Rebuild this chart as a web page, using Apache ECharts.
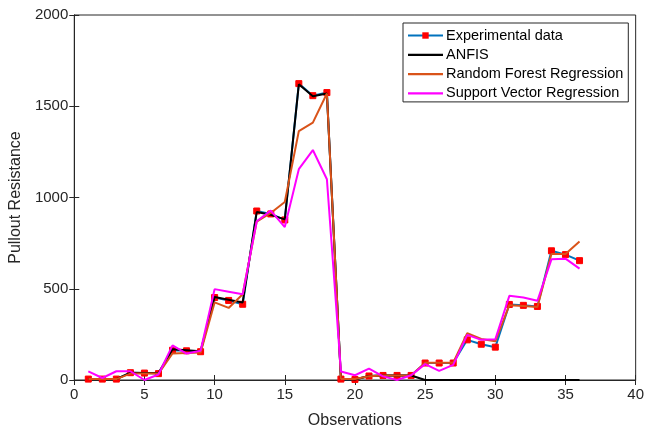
<!DOCTYPE html>
<html>
<head>
    <meta charset="utf-8">
    <title>Pullout Resistance</title>
    <script type="text/javascript" src="https://cdn.jsdelivr.net/npm/echarts@6/dist/echarts.min.js"></script>
    <style>
        body { margin: 0; background: #fff; }
    </style>
</head>
<body>
    <div id="main" style="width: 647px;height:434px;"></div>
    <script type="text/javascript">
        // observation index 1..36
        var observations = [1,2,3,4,5,6,7,8,9,10,11,12,13,14,15,16,17,18,19,20,21,22,23,24,25,26,27,28,29,30,31,32,33,34,35,36];

        var experimental = [5,5,5,40,38,35,163,160,155,452,436,415,926,910,877,1624,1558,1575,5,3,22,25,25,25,93,93,93,220,196,180,414,409,403,708,687,654];
        var anfis = [5,5,5,40,38,38,168,163,158,455,440,425,920,905,880,1620,1555,1570,5,3,22,25,25,25,0,0,0,0,0,0,0,0,0,0,0,0];
        var randomForest = [5,5,5,35,35,35,145,148,150,425,395,470,868,915,975,1364,1410,1570,5,5,20,25,25,25,95,95,95,256,225,212,410,405,400,690,690,759];
        var svr = [47,11,48,48,0,30,190,145,160,498,484,470,870,928,838,1155,1260,1100,47,26,62,20,0,26,87,50,83,247,220,223,461,452,434,661,665,610];

        var xTicks = [0, 40, 5];
        var yTicks = [0, 2000, 500];

        function pairs(vals) {
            return vals.map(function (v, i) { return [observations[i], v]; });
        }

        var axisColor = '#262626';
        var font = 'Liberation Sans, Arial, sans-serif';
        // plain line icon for the legend entries without markers
        var lineIcon = 'path://M0,0H35V2.2H0Z';

        var option = {
            animation: false,
            backgroundColor: '#fff',
            grid: { left: 72, right: 10, top: 15, bottom: 52, show: true, borderColor: axisColor, borderWidth: 1 },
            legend: {
                orient: 'vertical',
                left: 403,
                top: 23,
                itemWidth: 35,
                itemHeight: 8,
                itemGap: 4.3,
                padding: [5, 5, 1, 4],
                symbolKeepAspect: true,
                backgroundColor: '#fff',
                borderColor: axisColor,
                borderWidth: 1,
                borderRadius: 0,
                textStyle: { fontFamily: font, fontSize: 14.5, color: '#000', padding: [0, 0, 0, -2] },
                data: [
                    { name: 'Experimental data' },
                    { name: 'ANFIS', icon: lineIcon },
                    { name: 'Random Forest Regression', icon: lineIcon },
                    { name: 'Support Vector Regression', icon: lineIcon }
                ]
            },
            xAxis: [{
                type: 'value',
                min: xTicks[0], max: xTicks[1], interval: xTicks[2],
                name: 'Observations',
                nameLocation: 'middle',
                nameGap: 33,
                nameTextStyle: { fontFamily: font, fontSize: 16, color: axisColor },
                axisLine: { onZero: false, lineStyle: { color: axisColor } },
                axisTick: { inside: true, length: 5, lineStyle: { color: axisColor } },
                axisLabel: { fontFamily: font, fontSize: 15, color: axisColor, margin: 7 },
                splitLine: { show: false }
            }, {
                type: 'value', position: 'top',
                min: xTicks[0], max: xTicks[1], interval: xTicks[2],
                axisLine: { lineStyle: { color: axisColor } },
                axisTick: { inside: true, length: 5, lineStyle: { color: axisColor } },
                axisLabel: { show: false },
                splitLine: { show: false }
            }],
            yAxis: [{
                type: 'value',
                min: yTicks[0], max: yTicks[1], interval: yTicks[2],
                name: 'Pullout Resistance',
                nameLocation: 'middle',
                nameGap: 44,
                nameTextStyle: { fontFamily: font, fontSize: 16, color: axisColor },
                axisLine: { show: true, onZero: false, lineStyle: { color: axisColor } },
                axisTick: { show: true, inside: true, length: 5, lineStyle: { color: axisColor } },
                axisLabel: { fontFamily: font, fontSize: 15, color: axisColor, margin: 6, formatter: function (v) { return String(v); } },
                splitLine: { show: false }
            }, {
                type: 'value', position: 'right',
                min: yTicks[0], max: yTicks[1], interval: yTicks[2],
                axisLine: { show: true, lineStyle: { color: axisColor } },
                axisTick: { show: true, inside: true, length: 5, lineStyle: { color: axisColor } },
                axisLabel: { show: false },
                splitLine: { show: false }
            }],
            series: [{
                name: 'Experimental data',
                type: 'line',
                data: pairs(experimental),
                lineStyle: { color: '#0072BD', width: 2 },
                itemStyle: { color: '#FF0000', borderColor: '#FF0000' },
                symbol: 'rect',
                symbolSize: 6,
                z: 2
            }, {
                name: 'ANFIS',
                type: 'line',
                data: pairs(anfis),
                lineStyle: { color: '#000000', width: 2 },
                itemStyle: { color: '#000000' },
                symbol: 'none',
                z: 3
            }, {
                name: 'Random Forest Regression',
                type: 'line',
                data: pairs(randomForest),
                lineStyle: { color: '#D95319', width: 2 },
                itemStyle: { color: '#D95319' },
                symbol: 'none',
                z: 4
            }, {
                name: 'Support Vector Regression',
                type: 'line',
                data: pairs(svr),
                lineStyle: { color: '#FF00FF', width: 2 },
                itemStyle: { color: '#FF00FF' },
                symbol: 'none',
                z: 5
            }]
        };

        echarts.init(document.getElementById('main')).setOption(option);
    </script>
</body>
</html>
